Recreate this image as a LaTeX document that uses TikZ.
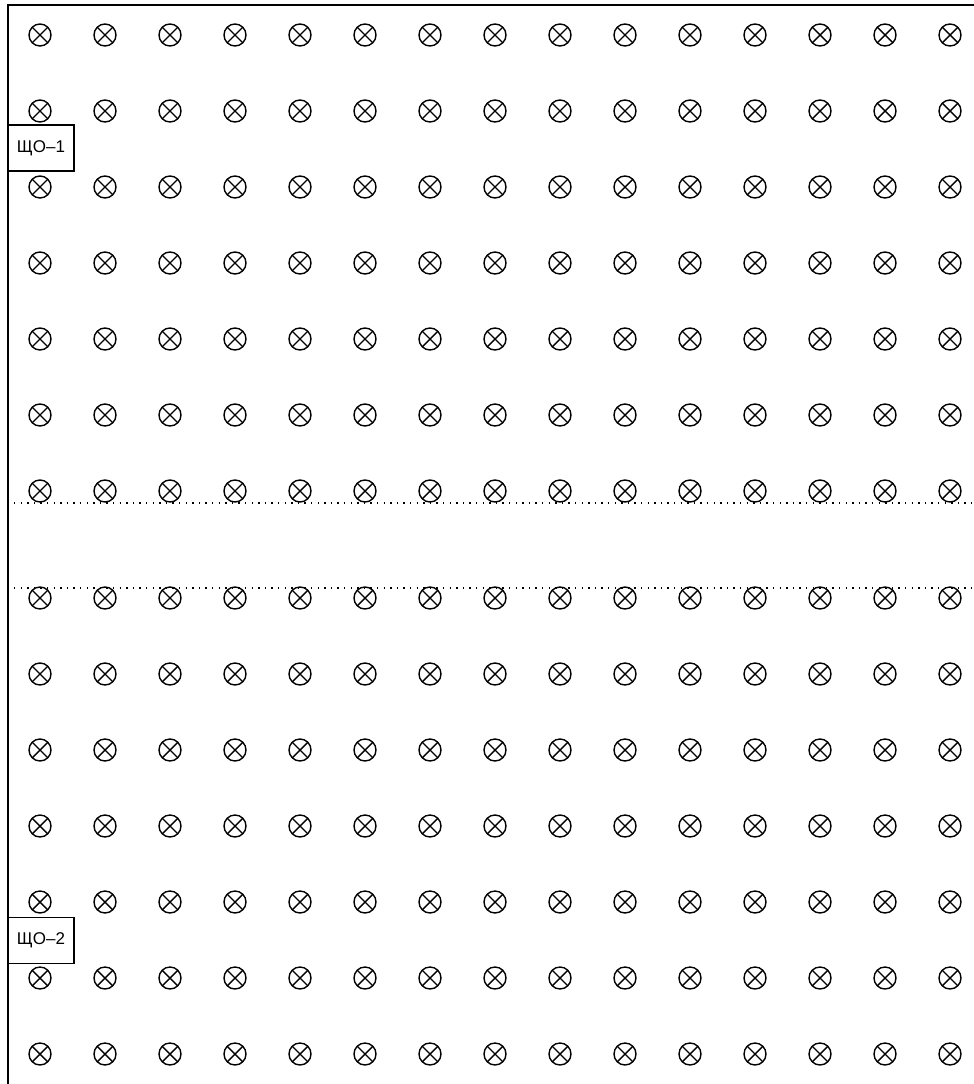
\documentclass[tikz,border=0pt]{standalone}
\usepackage{fontspec}
\setmainfont{Liberation Sans}
\begin{document}
\begin{tikzpicture}[x=1pt,y=-1pt,
  lamp/.style={circle,draw,line width=1.4pt,minimum size=22pt,inner sep=0pt,
    path picture={\draw[line width=1.4pt] (path picture bounding box.north west) -- (path picture bounding box.south east)
      (path picture bounding box.north east) -- (path picture bounding box.south west);}},
  panel/.style={draw,line width=1.3pt,fill=white,minimum width=66pt,minimum height=46pt,inner sep=0pt,font=\fontsize{17}{20}\selectfont},
  frame/.style={line width=2.2pt},
  sep/.style={line width=1.2pt,dash pattern=on 1.3pt off 5.3pt}]
\useasboundingbox (0,0) rectangle (974,1084);
% frame
\coordinate (tl) at (8,5);
\coordinate (tr) at (974,5);
\coordinate (bl) at (8,1084);
\draw[frame] (bl) -- (tl) -- (tr);
% separator lines
\coordinate (s1a) at (14,503);
\coordinate (s1b) at (974,503);
\coordinate (s2a) at (14,588);
\coordinate (s2b) at (974,588);
\draw[sep] (s1a) -- (s1b);
\draw[sep] (s2a) -- (s2b);
% lamps
\foreach \r in {0,...,6} {
  \foreach \c in {0,...,14} {
    \node[lamp] (t-\r-\c) at ({40+65*\c},{35+76*\r}) {};
  }
}
\foreach \r in {0,...,6} {
  \foreach \c in {0,...,14} {
    \node[lamp] (b-\r-\c) at ({40+65*\c},{598+76*\r}) {};
  }
}
% panels
\node[panel] (p1) at (41,148) {ЩО–1};
\node[panel] (p2) at (41,940.5) {ЩО–2};
\end{tikzpicture}
\end{document}
